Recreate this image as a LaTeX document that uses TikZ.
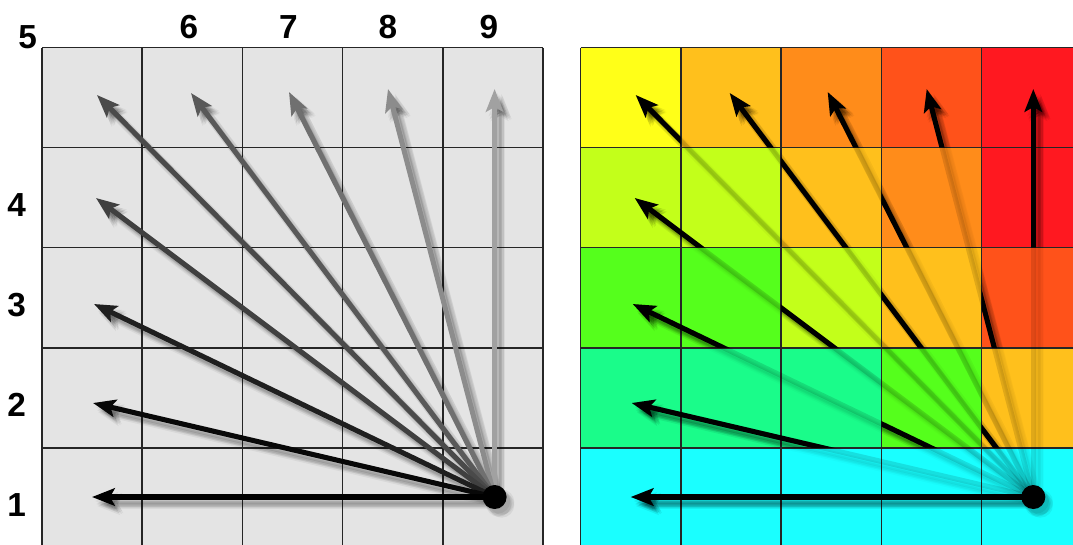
\documentclass[tikz,border=0pt]{standalone}
\usepackage{fontspec}
\setmainfont{Liberation Sans}
\usetikzlibrary{arrows.meta}
\definecolor{cellgray}{RGB}{228,228,228}
\definecolor{cls1}{RGB}{26,255,255}
\definecolor{cls2}{RGB}{26,252,138}
\definecolor{cls3}{RGB}{85,255,28}
\definecolor{cls4}{RGB}{195,255,26}
\definecolor{cls5}{RGB}{255,255,24}
\definecolor{cls6}{RGB}{255,192,28}
\definecolor{cls7}{RGB}{255,140,26}
\definecolor{cls8}{RGB}{255,82,26}
\definecolor{cls9}{RGB}{255,24,32}
\tikzset{
  arr/.style={line width=3.8pt, -{Stealth[length=17pt,width=13pt,inset=3.5pt]}},
  gridline/.style={line width=1.1pt, draw=black!85},
  lbl/.style={font=\bfseries\fontsize{25}{25}\selectfont, inner sep=0pt},
  dot/.style={circle, fill=black, minimum size=18pt, inner sep=0pt},
}
\newcommand\shd[3]{\foreach \dx/\dy in {3/4,5/6,7/8,4/7,7/5,5/9,8/7}{\draw[arr,draw=black,opacity=#3] ([shift={(\dx,\dy)}]#1) -- ([shift={(\dx,\dy)}]#2);}}
\newcommand\dotshd[1]{\foreach \dx/\dy in {3/4,5/6,7/8,4/7,7/5}{\fill[black,opacity=0.06] ([shift={(\dx,\dy)}]#1) circle[radius=9.5pt];}}
\newcommand\rcell[2]{({580.7+100.2*#2},{47.5+100.1*#1}) rectangle ({680.9+100.2*#2},{147.6+100.1*#1})}
\begin{document}
\begin{tikzpicture}[x=0.75pt,y=-0.75pt]
\useasboundingbox (0,0) rectangle (1073,544);
\clip (0,0) rectangle (1073,544);
% ---------- left grid ----------
\fill[cellgray] (42,47.5) rectangle (543,548);
\foreach \j in {0,...,5} \draw[gridline] ({42+100.2*\j},47.5) -- ({42+100.2*\j},548);
\foreach \i in {0,...,4} \draw[gridline] (42,{47.5+100.1*\i}) -- (543,{47.5+100.1*\i});
\coordinate (LO) at (494.6,497);
\coordinate (RO) at (1033.3,497);
\foreach \k/\x/\y in {1/92/497,2/93/403,3/94/304,4/96/198,5/97/95,6/191/93,7/289/92,8/388/89,9/494.6/89}{
  \coordinate (L\k) at (\x,\y);
  \coordinate (R\k) at ({\x+538.7},\y);
}
\foreach \k in {9,8,...,1} {\shd{LO}{L\k}{0.05}}
\foreach \k/\g in {9/37,8/45,7/56,6/65,5/71,4/75,3/88,2/97,1/100} {\draw[arr,draw=black!\g] (LO) -- (L\k);}
\dotshd{LO}
\node[dot] (LD) at (LO) {};
% ---------- right grid ----------
\foreach \i/\j/\c in {0/0/5,0/1/6,0/2/7,0/3/8,0/4/9,
                      1/0/4,1/1/4,1/2/6,1/3/7,1/4/9,
                      2/0/3,2/1/3,2/2/4,2/3/6,2/4/8,
                      3/0/2,3/1/2,3/2/2,3/3/3,3/4/6,
                      4/0/1,4/1/1,4/2/1,4/3/1,4/4/1}
  \fill[fill=cls\c] \rcell{\i}{\j};
\foreach \j in {0,...,4} \draw[gridline] ({580.7+100.2*\j},47.5) -- ({580.7+100.2*\j},548);
\foreach \i in {0,...,4} \draw[gridline] (580.7,{47.5+100.1*\i}) -- (1082,{47.5+100.1*\i});
\foreach \k in {9,8,...,1} {\shd{RO}{R\k}{0.02}}
\foreach \k in {9,8,...,1} {\draw[arr,draw=black,opacity=0.12] (RO) -- (R\k);}
\begin{scope}\clip \rcell{0}{4} \rcell{1}{4};
  \shd{RO}{R9}{0.05} \draw[arr] (RO) -- (R9);\end{scope}
\begin{scope}\clip \rcell{0}{3} \rcell{2}{4};
  \shd{RO}{R8}{0.05} \draw[arr] (RO) -- (R8);\end{scope}
\begin{scope}\clip \rcell{0}{2} \rcell{1}{3};
  \shd{RO}{R7}{0.05} \draw[arr] (RO) -- (R7);\end{scope}
\begin{scope}\clip \rcell{0}{1} \rcell{1}{2} \rcell{2}{3} \rcell{3}{4};
  \shd{RO}{R6}{0.05} \draw[arr] (RO) -- (R6);\end{scope}
\begin{scope}\clip \rcell{0}{0};
  \shd{RO}{R5}{0.05} \draw[arr] (RO) -- (R5);\end{scope}
\begin{scope}\clip \rcell{1}{0} \rcell{1}{1} \rcell{2}{2};
  \shd{RO}{R4}{0.05} \draw[arr] (RO) -- (R4);\end{scope}
\begin{scope}\clip \rcell{2}{0} \rcell{2}{1} \rcell{3}{3};
  \shd{RO}{R3}{0.05} \draw[arr] (RO) -- (R3);\end{scope}
\begin{scope}\clip \rcell{3}{0} \rcell{3}{1} \rcell{3}{2};
  \shd{RO}{R2}{0.05} \draw[arr] (RO) -- (R2);\end{scope}
\begin{scope}\clip \rcell{4}{0} \rcell{4}{1} \rcell{4}{2} \rcell{4}{3} \rcell{4}{4};
  \shd{RO}{R1}{0.05} \draw[arr] (RO) -- (R1);\end{scope}
\dotshd{RO}
\node[dot] (RD) at (RO) {};
% ---------- labels ----------
\node[lbl] (n5) at (27.7,37.5) {5};
\node[lbl] (n6) at (189,27) {6};
\node[lbl] (n7) at (288.5,27) {7};
\node[lbl] (n8) at (388,27) {8};
\node[lbl] (n9) at (489,27) {9};
\node[lbl] (n4) at (16.7,205) {4};
\node[lbl] (n3) at (16.7,305) {3};
\node[lbl] (n2) at (16.7,405) {2};
\node[lbl] (n1) at (16.7,505) {1};
\end{tikzpicture}
\end{document}
